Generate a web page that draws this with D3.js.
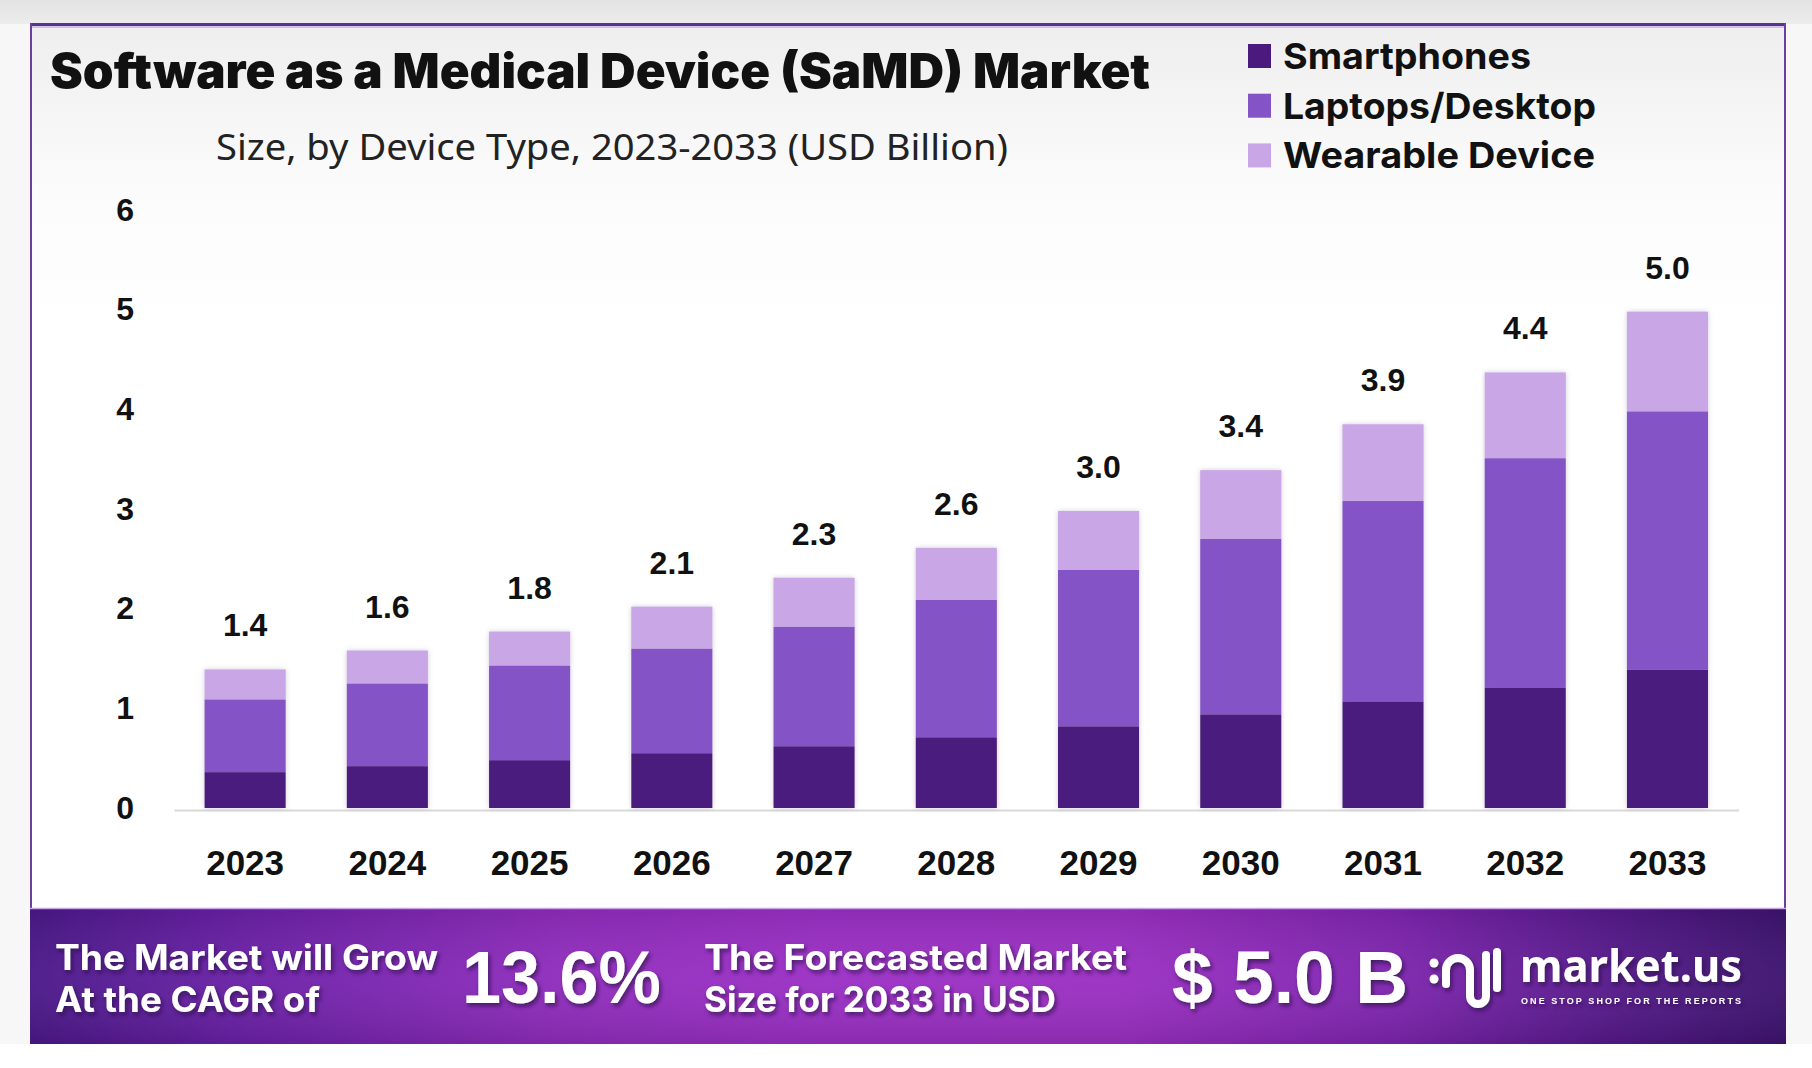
<!DOCTYPE html>
<html>
<head>
<meta charset="utf-8">
<script src="https://cdn.jsdelivr.net/npm/d3@7"></script>
<style>
  html, body { margin: 0; padding: 0; background: #ffffff; }
  svg { display: block; }
</style>
</head>
<body>
<svg id="chart" width="1812" height="1068"></svg>
<script>
// ---------- data ----------
const years = ["2023","2024","2025","2026","2027","2028","2029","2030","2031","2032","2033"];
const smartphones = [0.36,0.42,0.48,0.55,0.62,0.71,0.82,0.94,1.07,1.21,1.39];
const laptops     = [0.73,0.83,0.95,1.05,1.20,1.38,1.57,1.76,2.01,2.30,2.59];
const wearables   = [0.30,0.33,0.34,0.42,0.49,0.52,0.59,0.69,0.77,0.86,1.00];
const totalLabels = ["1.4","1.6","1.8","2.1","2.3","2.6","3.0","3.4","3.9","4.4","5.0"];
const seriesNames = ["Smartphones","Laptops/Desktop","Wearable Device"];
const seriesKeys  = ["smart","laptop","wear"];
const yTicks = [0,1,2,3,4,5,6];
const titleText = "Software as a Medical Device (SaMD) Market";
const subtitleText = "Size, by Device Type, 2023-2033 (USD Billion)";
const cagrLines = ["The Market will Grow","At the CAGR of"];
const cagrValue = "13.6%";
const forecastLines = ["The Forecasted Market","Size for 2033 in USD"];
const forecastValue = "$ 5.0 B";

const colors = {smart:"#4a1a7e", laptop:"#8453c5", wear:"#c9a6e6"};

const table = years.map((y,i)=>({year:y, smart:smartphones[i], laptop:laptops[i], wear:wearables[i], label:totalLabels[i]}));

const svg = d3.select("#chart");
const defs = svg.append("defs");

// gradients
const topG = defs.append("linearGradient").attr("id","topStrip").attr("x1",0).attr("y1",0).attr("x2",0).attr("y2",1);
topG.append("stop").attr("offset","0").attr("stop-color","#e3e3e3");
topG.append("stop").attr("offset","1").attr("stop-color","#ececec");

const cardG = defs.append("linearGradient").attr("id","cardFill").attr("x1",0).attr("y1",0).attr("x2",0).attr("y2",1);
cardG.append("stop").attr("offset","0").attr("stop-color","#eeeeee");
cardG.append("stop").attr("offset","0.16").attr("stop-color","#fbfbfb");
cardG.append("stop").attr("offset","0.3").attr("stop-color","#ffffff");

const banG = defs.append("linearGradient").attr("id","banner").attr("x1",0).attr("y1",0).attr("x2",1).attr("y2",0);
[["0","#4a1888"],["0.12","#6a20a6"],["0.3","#8f2cbc"],["0.45","#9a2fc4"],["0.62","#9a2fc2"],["0.78","#7d24ad"],["0.9","#55198a"],["1","#3c136e"]]
  .forEach(s=>banG.append("stop").attr("offset",s[0]).attr("stop-color",s[1]));

const banV = defs.append("linearGradient").attr("id","bannerShade").attr("x1",0).attr("y1",0).attr("x2",0).attr("y2",1);
banV.append("stop").attr("offset","0").attr("stop-color","#000").attr("stop-opacity",0.08);
banV.append("stop").attr("offset","0.5").attr("stop-color","#fff").attr("stop-opacity",0.04);
banV.append("stop").attr("offset","1").attr("stop-color","#000").attr("stop-opacity",0.1);

const barShadow = defs.append("filter").attr("id","barShadow").attr("x","-20%").attr("y","-10%").attr("width","140%").attr("height","120%");
barShadow.append("feDropShadow").attr("dx",0).attr("dy",0).attr("stdDeviation",2.5).attr("flood-color","#7a6a90").attr("flood-opacity",0.35);

const txtShadow = defs.append("filter").attr("id","txtShadow").attr("x","-10%").attr("y","-30%").attr("width","120%").attr("height","160%");
txtShadow.append("feDropShadow").attr("dx",2).attr("dy",3).attr("stdDeviation",2).attr("flood-color","#2a0845").attr("flood-opacity",0.7);

// ---------- background & card ----------
svg.append("rect").attr("x",0).attr("y",0).attr("width",1812).attr("height",1068).attr("fill","#ffffff");
svg.append("rect").attr("x",0).attr("y",0).attr("width",1812).attr("height",24).attr("fill","url(#topStrip)");
svg.append("rect").attr("x",0).attr("y",24).attr("width",30).attr("height",1020).attr("fill","#f7f7f7");
svg.append("rect").attr("x",1786).attr("y",24).attr("width",26).attr("height",1020).attr("fill","#f7f7f7");
svg.append("rect").attr("x",30).attr("y",23).attr("width",1756).attr("height",1021).attr("fill","url(#cardFill)");
// borders
svg.append("line").attr("x1",30).attr("x2",1786).attr("y1",24.5).attr("y2",24.5).attr("stroke","#5d3192").attr("stroke-width",3);
svg.append("line").attr("x1",30).attr("x2",1786).attr("y1",27).attr("y2",27).attr("stroke","#c9b4e0").attr("stroke-width",1.5);
svg.append("line").attr("x1",31).attr("x2",31).attr("y1",23).attr("y2",908).attr("stroke","#6b3d9e").attr("stroke-width",2);
svg.append("line").attr("x1",1785).attr("x2",1785).attr("y1",23).attr("y2",908).attr("stroke","#6b3d9e").attr("stroke-width",2);

// ---------- title / subtitle ----------
svg.append("text").attr("x",50).attr("y",88).text(titleText)
  .attr("font-family","Inter, 'Open Sans', sans-serif").attr("font-weight",900).attr("font-size",48)
  .attr("fill","#111").attr("textLength",1100).attr("lengthAdjust","spacingAndGlyphs");
svg.append("text").attr("x",216).attr("y",160).text(subtitleText)
  .attr("font-family","'Noto Sans', 'Open Sans', sans-serif").attr("font-weight",400).attr("font-size",37)
  .attr("fill","#222").attr("textLength",792).attr("lengthAdjust","spacingAndGlyphs");

// ---------- legend ----------
const legendLens = [248,313,312];
const lg = svg.append("g");
seriesKeys.forEach((k,i)=>{
  const yb = 69 + i*49.7;
  lg.append("rect").attr("x",1248).attr("y",yb-25).attr("width",23).attr("height",24).attr("fill",colors[k]);
  lg.append("text").attr("x",1283).attr("y",yb).text(seriesNames[i])
    .attr("font-family","Inter, 'Open Sans', sans-serif").attr("font-weight",700).attr("font-size",36)
    .attr("fill","#111").attr("textLength",legendLens[i]).attr("lengthAdjust","spacingAndGlyphs");
});

// ---------- scales ----------
const x = d3.scaleBand().domain(years).range([174, 1738.6]).paddingInner(0.43).paddingOuter(0.215);
const y = d3.scaleLinear().domain([0,6]).range([808, 210]);

const stackGen = d3.stack().keys(seriesKeys);
const stacked = stackGen(table);

// baseline / x axis
const xAxis = svg.append("g").attr("transform",`translate(0,${y(0)+2})`)
  .call(d3.axisBottom(x).tickSize(0).tickSizeOuter(0).tickPadding(40));
xAxis.select(".domain").attr("stroke","#d9d9d9").attr("stroke-width",2);
xAxis.selectAll("text").attr("font-family","'Liberation Sans', Arial, sans-serif").attr("font-weight",700)
  .attr("font-size",35).attr("fill","#111");

// y axis
const yAxis = svg.append("g").attr("transform",`translate(174,0)`)
  .call(d3.axisLeft(y).tickValues(yTicks).tickFormat(d3.format("d")).tickSize(0).tickPadding(40));
yAxis.select(".domain").remove();
yAxis.selectAll("text").attr("font-family","'Liberation Sans', Arial, sans-serif").attr("font-weight",700)
  .attr("font-size",32).attr("fill","#111");

// bars
const barG = svg.append("g").attr("filter","url(#barShadow)");
stacked.forEach(layer=>{
  barG.append("g").attr("fill",colors[layer.key])
    .selectAll("rect").data(layer).join("rect")
    .attr("x",d=>x(d.data.year))
    .attr("width",x.bandwidth())
    .attr("y",d=>y(d[1]))
    .attr("height",d=>y(d[0])-y(d[1]));
});

// total labels
const topLayer = stacked[stacked.length-1];
svg.append("g").selectAll("text").data(topLayer).join("text")
  .attr("x",d=>x(d.data.year)+x.bandwidth()/2)
  .attr("y",d=>y(d[1])-33)
  .attr("text-anchor","middle")
  .attr("font-family","'Liberation Sans', Arial, sans-serif").attr("font-weight",700).attr("font-size",32)
  .attr("fill","#111")
  .text(d=>d.data.label);

// ---------- banner ----------
svg.append("rect").attr("x",30).attr("y",908).attr("width",1756).attr("height",136).attr("fill","url(#banner)");
svg.append("rect").attr("x",30).attr("y",908).attr("width",1756).attr("height",136).attr("fill","url(#bannerShade)");
svg.append("line").attr("x1",30).attr("x2",1786).attr("y1",908.5).attr("y2",908.5).attr("stroke","#c8a4e4").attr("stroke-width",1.5);

const bt = svg.append("g").attr("filter","url(#txtShadow)").attr("fill","#ffffff");
const smallFont = "Inter, 'Open Sans', sans-serif";
[[cagrLines,55,[383,265]],[forecastLines,704,[423,352]]].forEach(([lines,x0,lens])=>{
  lines.forEach((t,i)=>{
    bt.append("text").attr("x",x0).attr("y",970+i*42).text(t)
      .attr("font-family",smallFont).attr("font-weight",700).attr("font-size",35)
      .attr("textLength",lens[i]).attr("lengthAdjust","spacingAndGlyphs");
  });
});
bt.append("text").attr("x",462).attr("y",1003).text(cagrValue)
  .attr("font-family","'Liberation Sans', Arial, sans-serif").attr("font-weight",700).attr("font-size",74)
  .attr("textLength",199).attr("lengthAdjust","spacingAndGlyphs");
bt.append("text").attr("x",1172).attr("y",1003).text(forecastValue)
  .attr("font-family","'Liberation Sans', Arial, sans-serif").attr("font-weight",700).attr("font-size",74)
  .attr("textLength",236).attr("lengthAdjust","spacingAndGlyphs");

// logo
const logo = bt.append("g");
logo.append("circle").attr("cx",1434).attr("cy",963).attr("r",4.5);
logo.append("circle").attr("cx",1434).attr("cy",979).attr("r",4.5);
logo.append("path").attr("d","M1446,984 L1446,970 A12,12 0 0 1 1470,970 L1470,996 A8,8 0 0 0 1486,996 L1486,955")
  .attr("fill","none").attr("stroke","#fff").attr("stroke-width",8).attr("stroke-linecap","round");
logo.append("line").attr("x1",1497).attr("x2",1497).attr("y1",952).attr("y2",988)
  .attr("stroke","#fff").attr("stroke-width",8).attr("stroke-linecap","round");
logo.append("text").attr("x",1520).attr("y",982).text("market.us")
  .attr("font-family","'Noto Sans', 'Open Sans', sans-serif").attr("font-weight",700).attr("font-size",44)
  .attr("textLength",222).attr("lengthAdjust","spacingAndGlyphs");
logo.append("text").attr("x",1521).attr("y",1004).text("ONE STOP SHOP FOR THE REPORTS")
  .attr("font-family","'Liberation Sans', Arial, sans-serif").attr("font-weight",700).attr("font-size",9)
  .attr("textLength",220).attr("lengthAdjust","spacing");
</script>
</body>
</html>
